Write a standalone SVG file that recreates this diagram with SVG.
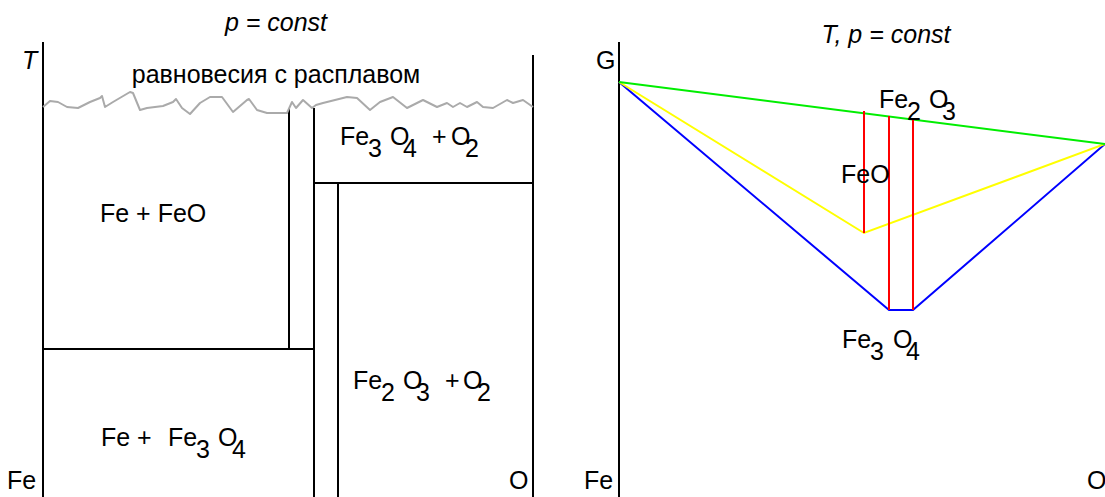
<svg xmlns="http://www.w3.org/2000/svg" width="1105" height="497" viewBox="0 0 1105 497">
<style>
text{font-family:"Liberation Sans",Arial,sans-serif;font-size:25px;fill:#000}
.it{font-style:italic}
.k{stroke:#000;stroke-width:2;fill:none}
.w{stroke:#aaa;stroke-width:2;fill:none;stroke-linejoin:round}
.g{stroke:#00ee00;stroke-width:2;fill:none}
.y{stroke:#ffff00;stroke-width:2;fill:none}
.b{stroke:#0000ff;stroke-width:2;fill:none}
.r{stroke:#ff0000;stroke-width:2;fill:none}
</style>
<rect width="1105" height="497" fill="#fff"/>
<g id="left-diagram">
  <g id="left-lines">
    <line class="k" x1="43" y1="42" x2="43" y2="497"/>
    <line class="k" x1="533" y1="55" x2="533" y2="497"/>
    <line class="k" x1="289" y1="108" x2="289" y2="349"/>
    <line class="k" x1="314" y1="108" x2="314" y2="497"/>
    <line class="k" x1="314" y1="183" x2="533" y2="183"/>
    <line class="k" x1="338" y1="183" x2="338" y2="497"/>
    <line class="k" x1="43" y1="349" x2="314" y2="349"/>
    <polyline class="w" points="43,107 50,101 58,102 67,107 78,108 90,102 100,98 102,96 105,107 113,102 130,92 133,93 140,110 147,108 163,106 173,102 176,99 182,108 190,114 200,103 210,97 222,97 233,112 247,100 249,99 257,110 267,113 287,113 292,102 296,108 303,100 312,108 316,105 323,103 347,97 357,98 370,110 380,102 393,97 407,108 413,105 423,100 437,107 447,103 453,107 460,103 467,107 477,102 483,107 493,108 507,100 513,103 523,100 533,107"/>
  </g>
  <text class="it" x="276" y="31" text-anchor="middle">p = const</text>
  <text class="it" x="22" y="69">T</text>
  <text x="276" y="83" text-anchor="middle">равновесия с расплавом</text>
  <g id="fe-feo"><text x="100" y="222">Fe + FeO</text></g>
  <g id="fe3o4-o2"><text><tspan x="340" y="145">Fe</tspan><tspan x="368" y="157">3</tspan><tspan x="390" y="145">O</tspan><tspan x="403" y="157">4</tspan><tspan x="432" y="145">+</tspan><tspan x="451" y="145">O</tspan><tspan x="465" y="157">2</tspan></text></g>
  <g id="fe2o3-o2"><text><tspan x="353" y="389">Fe</tspan><tspan x="381" y="401">2</tspan><tspan x="403" y="389">O</tspan><tspan x="416" y="401">3</tspan><tspan x="445" y="389">+</tspan><tspan x="463" y="389">O</tspan><tspan x="477" y="401">2</tspan></text></g>
  <g id="fe-fe3o4"><text><tspan x="101" y="446">Fe +</tspan><tspan x="168" y="446">Fe</tspan><tspan x="196" y="458">3</tspan><tspan x="218" y="446">O</tspan><tspan x="232" y="458">4</tspan></text></g>
  <text x="7" y="489">Fe</text>
  <text x="509" y="489">O</text>
</g>
<g id="right-diagram">
  <g id="right-lines">
    <line class="k" x1="619" y1="42" x2="619" y2="497"/>
    <polyline class="b" points="619,82 889,310 913,310 1105,144"/>
    <polyline class="y" points="619,82 864,233 1105,144"/>
    <line class="g" x1="619" y1="82" x2="1105" y2="144"/>
    <line class="r" x1="864" y1="111" x2="864" y2="233"/>
    <line class="r" x1="889" y1="116" x2="889" y2="310"/>
    <line class="r" x1="913" y1="120" x2="913" y2="310"/>
  </g>
  <text class="it" x="886" y="43" text-anchor="middle">T, p = const</text>
  <text x="596" y="69">G</text>
  <g id="fe2o3"><text><tspan x="879" y="108">Fe</tspan><tspan x="907" y="120">2</tspan><tspan x="929" y="108">O</tspan><tspan x="942" y="120">3</tspan></text></g>
  <g id="feo"><text x="841" y="183">FeO</text></g>
  <g id="fe3o4"><text><tspan x="842" y="348">Fe</tspan><tspan x="870" y="360">3</tspan><tspan x="893" y="348">O</tspan><tspan x="906" y="360">4</tspan></text></g>
  <text x="584" y="489">Fe</text>
  <text x="1087" y="489">O</text>
</g>
</svg>
